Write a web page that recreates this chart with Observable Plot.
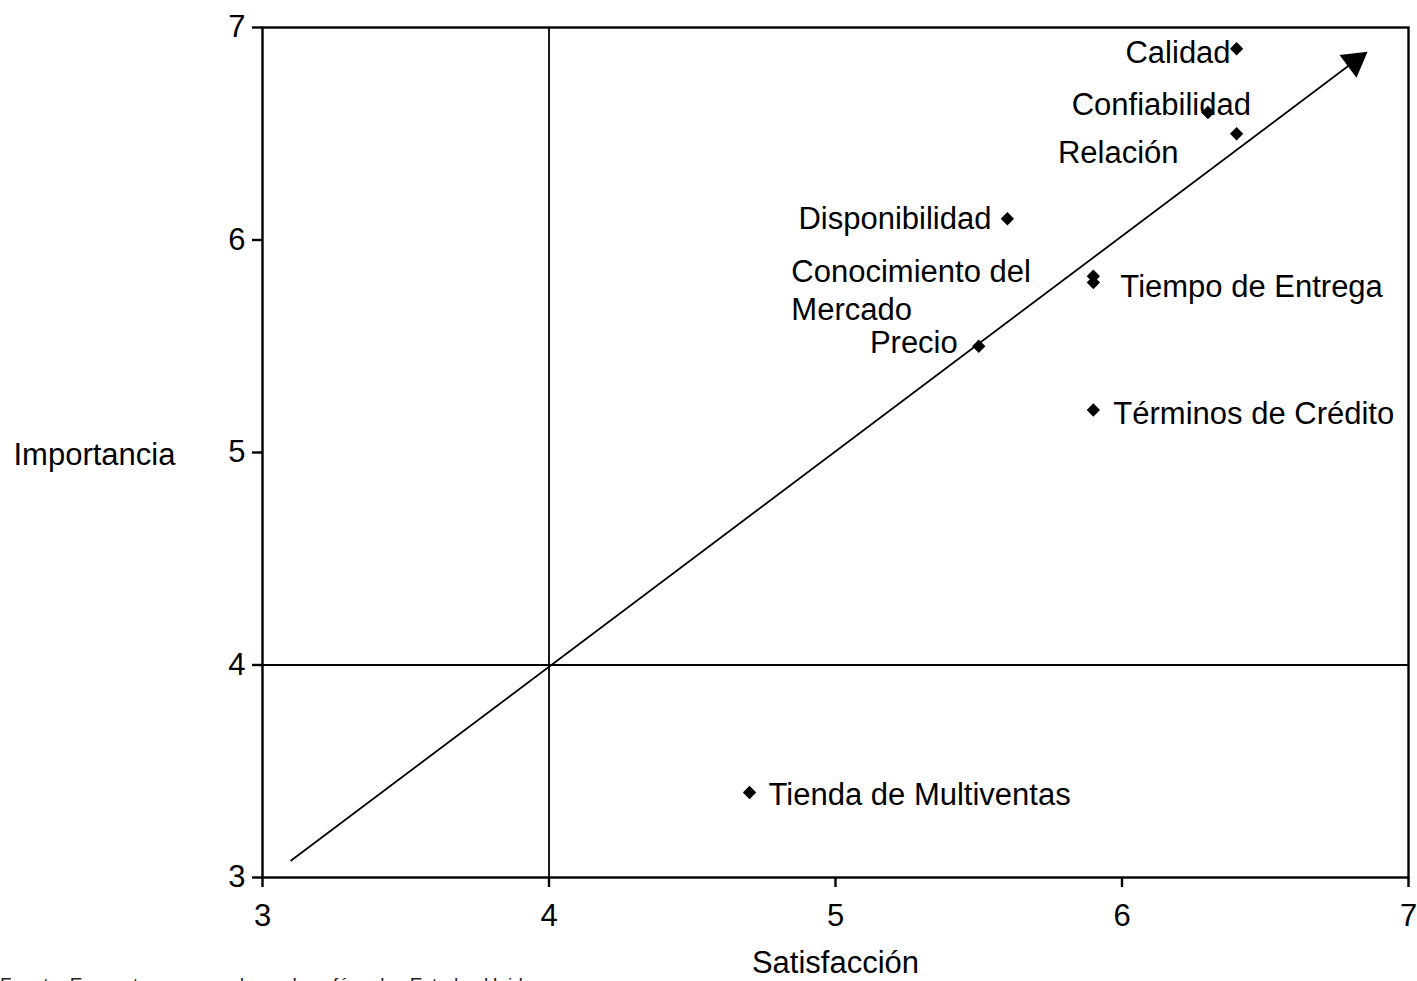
<!DOCTYPE html>
<html>
<head>
<meta charset="utf-8">
<script src="https://cdn.jsdelivr.net/npm/d3@7"></script>
<script src="https://cdn.jsdelivr.net/npm/@observablehq/plot@0.6"></script>
<style>
  html, body { margin: 0; padding: 0; background: #fff; overflow: hidden; }
  #wrap { position: relative; width: 1417px; height: 981px; }
  #caption { position: absolute; left: 0; top: 974px; font-family: "Liberation Sans", Arial, sans-serif; font-size: 19px; color: #222; white-space: nowrap; }
</style>
</head>
<body>
<div id="wrap">
  <div id="chart"></div>
  <div id="caption">Fuente: Encuesta a compradores de café en los Estados Unidos</div>
</div>
<script>
// ---- data ----
const categorias = ["Calidad", "Confiabilidad", "Relación", "Disponibilidad", "Conocimiento del\nMercado", "Tiempo de Entrega", "Precio", "Términos de Crédito", "Tienda de Multiventas"];
const satisfaccion = [6.4, 6.3, 6.4, 5.6, 5.9, 5.9, 5.5, 5.9, 4.7];
const importancia  = [6.9, 6.6, 6.5, 6.1, 5.83, 5.8, 5.5, 5.2, 3.4];
const xTicks = [3, 4, 5, 6, 7];
const yTicks = [3, 4, 5, 6, 7];
const lineaReferenciaX = [4];
const lineaReferenciaY = [4];
const tendencia = [[3.1, 3.08], [6.85, 6.88]];
const tituloX = "Satisfacción";
const tituloY = "Importancia";

// ---- label layout (styling only) ----
const etiquetaPos = [
  {anchor: "end",   dx: -6,   dy: 2},
  {anchor: "end",   dx: 43,   dy: -10},
  {anchor: "end",   dx: -58,  dy: 17},
  {anchor: "end",   dx: -16,  dy: -2},
  {anchor: "start", dx: -302, dy: 13},
  {anchor: "start", dx: 27,   dy: 2},
  {anchor: "end",   dx: -21,  dy: -5},
  {anchor: "start", dx: 20,   dy: 2},
  {anchor: "start", dx: 19,   dy: 0}
];

const idx = d3.range(categorias.length);
const FS = 31;

const labelMarks = idx.map(i => Plot.text([i], {
  x: j => satisfaccion[j], y: j => importancia[j], text: j => categorias[j],
  textAnchor: etiquetaPos[i].anchor, dx: etiquetaPos[i].dx, dy: etiquetaPos[i].dy,
  lineAnchor: "middle", lineHeight: 1.23, fontSize: FS, fill: "black"
}));

const chart = Plot.plot({
  width: 1417,
  height: 981,
  marginLeft: 262,
  marginRight: 9,
  marginTop: 27,
  marginBottom: 104,
  x: {domain: [3, 7]},
  y: {domain: [3, 7]},
  style: {fontFamily: "'Liberation Sans', Arial, sans-serif", fontSize: FS + "px", color: "black", background: "white"},
  marks: [
    Plot.ruleX(lineaReferenciaX, {stroke: "black", strokeWidth: 1.8}),
    Plot.ruleY(lineaReferenciaY, {stroke: "black", strokeWidth: 1.8}),
    Plot.frame({stroke: "black", strokeWidth: 2.4}),
    Plot.axisX({ticks: xTicks, tickSize: 10, tickPadding: 16, tickFormat: d => String(d), label: null, strokeWidth: 2.4, fontSize: FS}),
    Plot.axisY({ticks: yTicks, tickSize: 10, tickPadding: 7, tickFormat: d => String(d), label: null, strokeWidth: 2.4, fontSize: FS}),
    Plot.line(tendencia, {x: d => d[0], y: d => d[1], stroke: "black", strokeWidth: 1.8}),
    Plot.dot([tendencia[1]], {x: d => d[0], y: d => d[1], symbol: "triangle", r: 10.5, fill: "black", rotate: 53.1, dx: -11, dy: 8.5}),
    Plot.dot(idx, {x: i => satisfaccion[i], y: i => importancia[i], symbol: "diamond2", r: 6, fill: "black"}),
    ...labelMarks,
    Plot.text([tituloY], {frameAnchor: "left", textAnchor: "start", dx: -249, dy: 3, fontSize: FS, fill: "black"}),
    Plot.text([tituloX], {frameAnchor: "bottom", dy: 95, fontSize: FS, fill: "black"})
  ]
});
document.getElementById("chart").appendChild(chart);
</script>
</body>
</html>
